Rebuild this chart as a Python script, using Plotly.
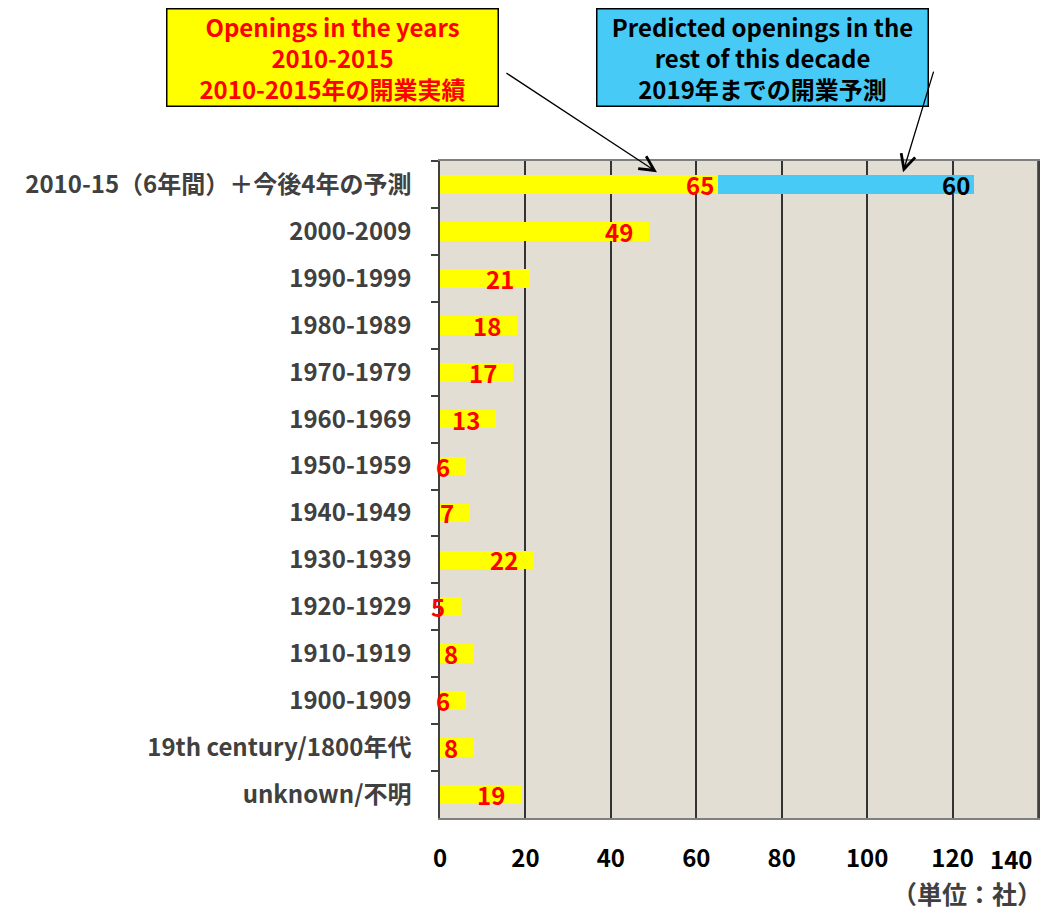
import plotly.graph_objects as go

categories = [
    "2010-15（6年間）＋今後4年の予測", "2000-2009", "1990-1999", "1980-1989",
    "1970-1979", "1960-1969", "1950-1959", "1940-1949", "1930-1939",
    "1920-1929", "1910-1919", "1900-1909", "19th century/1800年代", "unknown/不明",
]
openings_actual = [65, 49, 21, 18, 17, 13, 6, 7, 22, 5, 8, 6, 8, 19]
openings_predicted = [60, 0, 0, 0, 0, 0, 0, 0, 0, 0, 0, 0, 0, 0]
x_ticks = [0, 20, 40, 60, 80, 100, 120, 140]

FONT = "Noto Sans CJK JP, Noto Sans, sans-serif"
YELLOW = "#ffff00"
BLUE = "#47cbf6"

fig = go.Figure()
fig.add_trace(go.Bar(y=categories, x=openings_actual, orientation="h",
                     marker=dict(color=YELLOW, line=dict(width=0)), name="actual"))
fig.add_trace(go.Bar(y=categories, x=openings_predicted, orientation="h",
                     marker=dict(color=BLUE, line=dict(width=0)), name="predicted"))

annotations = []
for i, (c, a) in enumerate(zip(categories, openings_actual)):
    annotations.append(dict(x=a, y=c, xref="x", yref="y", text=str(a), showarrow=False,
                            xanchor="right", xshift=-2 if i == 0 else -14, yshift=0,
                            font=dict(family=FONT, size=24, color="#ff0000", weight="bold")))
for c, a, p in zip(categories, openings_actual, openings_predicted):
    if p:
        annotations.append(dict(x=a + p, y=c, xref="x", yref="y", text=str(p), showarrow=False,
                                xanchor="right", xshift=-2, yshift=0,
                                font=dict(family=FONT, size=24, color="#000000", weight="bold")))

# last x tick label (kept inside the page like the reference)
annotations.append(dict(x=x_ticks[-1], y=0, xref="x", yref="paper", text=str(x_ticks[-1]),
                        showarrow=False, xanchor="right", yanchor="middle", xshift=-4, yshift=-40,
                        font=dict(family=FONT, size=24, color="#000000", weight="bold")))

# callout boxes
annotations.append(dict(xref="paper", yref="paper", x=-0.179, y=1.158, xanchor="center", yanchor="middle",
                        text="Openings in the years<br>2010-2015<br>2010-2015年の開業実績",
                        showarrow=False, bgcolor=YELLOW, bordercolor="#000000", borderwidth=1.5,
                        width=330, height=96, borderpad=0,
                        font=dict(family=FONT, size=24, color="#ff0000", weight="bold")))
annotations.append(dict(xref="paper", yref="paper", x=0.540, y=1.158, xanchor="center", yanchor="middle",
                        text="Predicted openings in the<br>rest of this decade<br>2019年までの開業予測",
                        showarrow=False, bgcolor=BLUE, bordercolor="#000000", borderwidth=1.5,
                        width=330, height=96, borderpad=0,
                        font=dict(family=FONT, size=24, color="#000000", weight="bold")))
# arrows
annotations.append(dict(x=50.8, y=0.983, xref="x", yref="paper", text="", showarrow=True,
                        ax=-152, ay=-100, arrowhead=5, arrowsize=2.2, arrowwidth=1.3, arrowcolor="#000000"))
annotations.append(dict(x=108.4, y=0.983, xref="x", yref="paper", text="", showarrow=True,
                        ax=31, ay=-102, arrowhead=5, arrowsize=2.2, arrowwidth=1.3, arrowcolor="#000000"))
# unit label
annotations.append(dict(xref="paper", yref="paper", x=0.987, y=-0.114, xanchor="right", yanchor="middle",
                        text="（単位：社）", showarrow=False, xshift=14,
                        font=dict(family=FONT, size=25, color="#404040", weight="bold")))

fig.update_layout(
    barmode="stack",
    bargap=0.6,
    width=1054, height=904,
    margin=dict(l=432, r=24, t=153, b=94, autoexpand=False),
    plot_bgcolor="#e3ded4",
    paper_bgcolor="#ffffff",
    showlegend=False,
    annotations=annotations,
    font=dict(family=FONT),
)
fig.update_xaxes(range=[0, 140], tickvals=x_ticks[:-1], showgrid=True, gridcolor="#333333", gridwidth=1.5,
                 zeroline=False, showline=True, linecolor="#7f7f7f", linewidth=1.5, mirror=True,
                 ticks="", ticklabelstandoff=18, automargin=False,
                 tickfont=dict(family=FONT, size=24, color="#000000", weight="bold"))
fig.update_yaxes(categoryorder="array", categoryarray=categories, autorange="reversed",
                 showgrid=False, showline=True, linecolor="#404040", linewidth=1.5, mirror=True,
                 ticks="outside", tickson="boundaries", ticklen=7, tickcolor="#404040", tickwidth=1.5,
                 ticklabelstandoff=22, automargin=False,
                 tickfont=dict(family=FONT, size=24, color="#404040", weight="bold"))
# gridline at the right border
fig.add_vline(x=x_ticks[-1], line=dict(color="#333333", width=1.5))

fig.write_html("out.html")
